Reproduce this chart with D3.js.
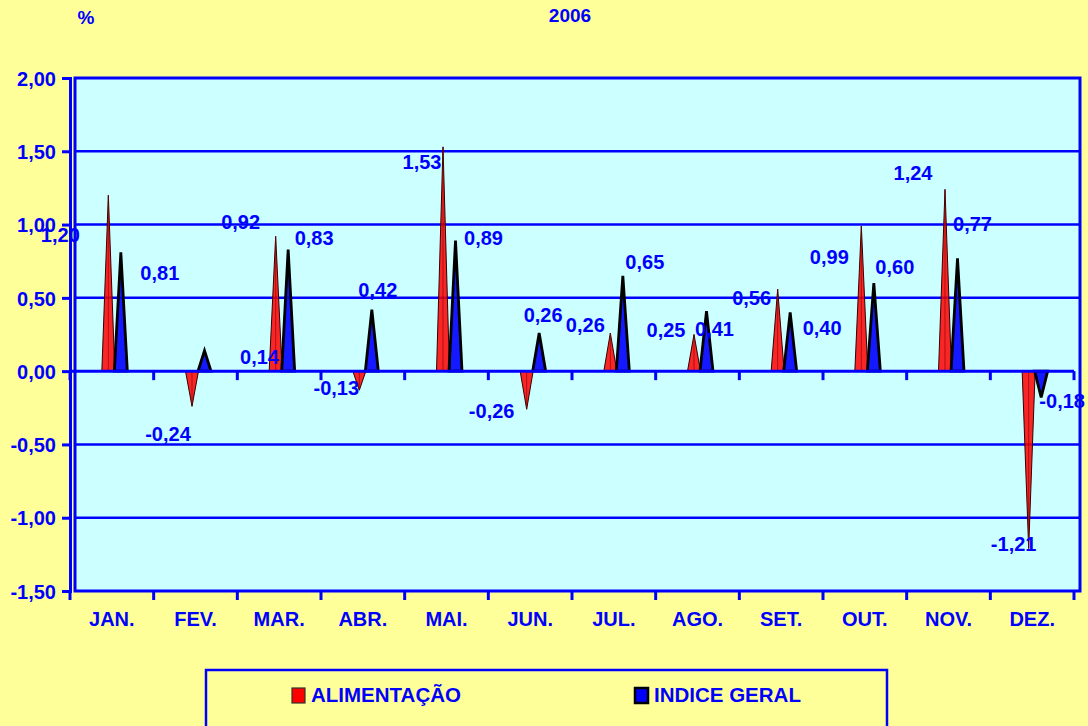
<!DOCTYPE html>
<html><head><meta charset="utf-8">
<script src="https://cdn.jsdelivr.net/npm/d3@7"></script>
<style>html,body{margin:0;padding:0;background:#FFFF99;overflow:hidden}svg{display:block}</style>
</head><body>
<script>
const months = ["JAN.","FEV.","MAR.","ABR.","MAI.","JUN.","JUL.","AGO.","SET.","OUT.","NOV.","DEZ."];
const alimentacao = [1.20,-0.24,0.92,-0.13,1.53,-0.26,0.26,0.25,0.56,0.99,1.24,-1.21];
const indiceGeral = [0.81,0.14,0.83,0.42,0.89,0.26,0.65,0.41,0.40,0.60,0.77,-0.18];
const yTicks = [2.0,1.5,1.0,0.5,0.0,-0.5,-1.0,-1.5];
// label offsets (px) relative to spike apex, as placed in the original
const alLabelOff = [[-48,40],[-24,27],[-35,-14],[-23,-2],[-21,15],[-35,2],[-25,-8],[-28,-5],[-26,9],[-32,31],[-32,-17],[-15,-5]];
const igLabelOff = [[39,20],[55,6],[26,-12],[6,-20],[28,-3],[4,-18],[22,-14],[8,18],[32,15],[21,-16],[15,-34],[21,3]];

const W=1088,H=726, blue="#0000FF";
const svg=d3.select("body").append("svg").attr("width",W).attr("height",H);
svg.append("rect").attr("width",W).attr("height",H).attr("fill","#FFFF99");

const x=d3.scaleBand().domain(months).range([70,1074]);
const y=d3.scaleLinear().domain([-1.5,2]).range([591,78]);
const fmt=v=>d3.format(".2f")(v).replace(".",",").replace("\u2212","-");
const font="'Liberation Sans',Arial,sans-serif";

// plot area
svg.append("rect").attr("x",75).attr("y",y(2)).attr("width",1080-75).attr("height",y(-1.5)-y(2))
  .attr("fill","#CCFFFF").attr("stroke",blue).attr("stroke-width",3);
// gridlines
svg.append("g").selectAll("line").data(yTicks.filter(v=>v!==0&&v!==2&&v!==-1.5)).join("line")
  .attr("x1",75).attr("x2",1080).attr("y1",d=>y(d)).attr("y2",d=>y(d)).attr("stroke",blue).attr("stroke-width",2.5);

// y axis
const yAxis=svg.append("g").attr("transform","translate(70,0)")
  .call(d3.axisLeft(y).tickValues(yTicks).tickSize(8).tickFormat(fmt));
yAxis.select(".domain").attr("stroke",blue).attr("stroke-width",3);
yAxis.selectAll(".tick line").attr("stroke",blue).attr("stroke-width",3);
yAxis.selectAll(".tick text").attr("fill",blue).attr("font-family",font).attr("font-weight","bold").attr("font-size",20).attr("x",-14).attr("dy","0.36em");

const tickPos=d3.range(13).map(i=>70+i*x.step());
function xAxisAt(yy){
  const g=svg.append("g");
  g.selectAll("line").data(tickPos).join("line").attr("x1",d=>d).attr("x2",d=>d).attr("y1",yy).attr("y2",yy+9).attr("stroke",blue).attr("stroke-width",3);
  return g;
}
xAxisAt(y(-1.5));

// spikes
const spikes=svg.append("g");
function spike(cx,v,hw){
  return `M${cx-hw},${y(0)}L${cx},${y(v)}L${cx+hw},${y(0)}Z`;
}
const alX=m=>x(m)+x.bandwidth()/2-3.5, igX=m=>x(m)+x.bandwidth()/2+9;
spikes.selectAll("path.al").data(months).join("path").attr("class","al")
  .attr("d",(m,i)=>spike(alX(m),alimentacao[i],6.5)).attr("fill","#FF0000").attr("fill-opacity",0.85).attr("stroke","#330000").attr("stroke-width",1);
spikes.selectAll("path.alc").data(months).join("line").attr("class","alc")
  .attr("x1",alX).attr("x2",alX).attr("y1",y(0)).attr("y2",(m,i)=>y(alimentacao[i])).attr("stroke","#880000").attr("stroke-width",1).attr("opacity",0.6);
spikes.selectAll("path.ig").data(months).join("path").attr("class","ig")
  .attr("d",(m,i)=>spike(igX(m),indiceGeral[i],6.5)).attr("fill","#0000FF").attr("fill-opacity",0.9).attr("stroke","#000").attr("stroke-width",2.8).attr("stroke-linejoin","miter");

// zero axis
svg.append("line").attr("x1",70).attr("x2",1074).attr("y1",y(0)).attr("y2",y(0)).attr("stroke",blue).attr("stroke-width",3);
xAxisAt(y(0));

// category labels
svg.append("g").selectAll("text").data(months).join("text")
  .attr("x",m=>x(m)+x.bandwidth()/2).attr("y",626).attr("text-anchor","middle")
  .attr("fill",blue).attr("font-family",font).attr("font-weight","bold").attr("font-size",20).text(m=>m);

// data labels
const lab=svg.append("g").attr("fill",blue).attr("font-family",font).attr("font-weight","bold").attr("font-size",20).attr("text-anchor","middle");
lab.selectAll("text.al").data(months).join("text").attr("class","al")
  .attr("x",(m,i)=>alX(m)+alLabelOff[i][0]).attr("y",(m,i)=>y(alimentacao[i])+alLabelOff[i][1]).attr("dy","0.36em").text((m,i)=>fmt(alimentacao[i]));
lab.selectAll("text.ig").data(months).join("text").attr("class","ig")
  .attr("x",(m,i)=>igX(m)+igLabelOff[i][0]).attr("y",(m,i)=>y(indiceGeral[i])+igLabelOff[i][1]).attr("dy","0.36em").text((m,i)=>fmt(indiceGeral[i]));

// titles
svg.append("text").attr("x",86).attr("y",24).attr("text-anchor","middle").attr("fill",blue).attr("font-family",font).attr("font-weight","bold").attr("font-size",19).text("%");
svg.append("text").attr("x",570).attr("y",22).attr("text-anchor","middle").attr("fill",blue).attr("font-family",font).attr("font-weight","bold").attr("font-size",19).text("2006");

// legend
svg.append("rect").attr("x",206).attr("y",670).attr("width",681).attr("height",80).attr("fill","#FFFF99").attr("stroke",blue).attr("stroke-width",2.5);
const legend=[{name:"ALIMENTAÇÃO",fill:"#FF0000",stroke:"#333"},{name:"INDICE GERAL",fill:"#0000FF",stroke:"#000"}];
const lg=svg.append("g").selectAll("g").data(legend).join("g").attr("transform",(d,i)=>`translate(${[292,635][i]},0)`);
lg.append("rect").attr("x",0).attr("y",688).attr("width",13).attr("height",15).attr("fill",d=>d.fill).attr("stroke",d=>d.stroke).attr("stroke-width",(d,i)=>i?2.5:1.2);
lg.append("text").attr("x",19).attr("y",702).attr("fill",blue).attr("font-family",font).attr("font-weight","bold").attr("font-size",20.5).text(d=>d.name);
</script>
</body></html>
